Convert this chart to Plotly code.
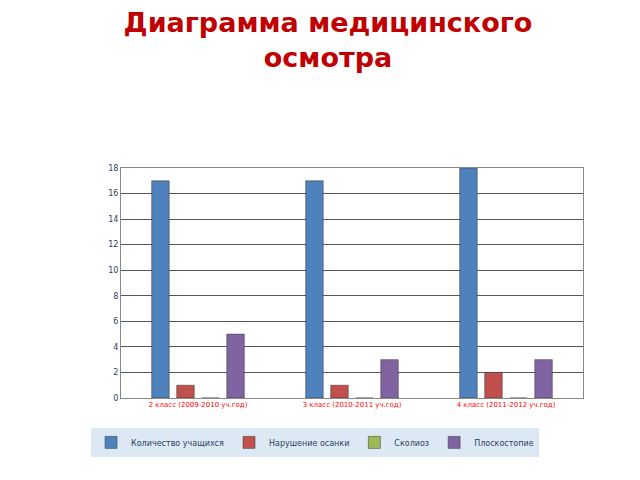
import plotly.graph_objects as go

categories = ['2 класс (2009-2010 уч.год)', '3 класс (2010-2011 уч.год)', '4 класс (2011-2012 уч.год)']
series_names = ['Количество учащихся', 'Нарушение осанки', 'Сколиоз', 'Плоскостопие']
uchaschihsya = [17, 17, 18]
narushenie = [1, 1, 2]
skolioz = [0, 0, 0]
ploskostopie = [5, 3, 3]
colors = ['#4f81bd', '#c0504d', '#9bbb59', '#8064a2']

fig = go.Figure()
for name, vals, c in zip(series_names, [uchaschihsya, narushenie, skolioz, ploskostopie], colors):
    fig.add_trace(go.Bar(x=categories, y=vals, name=name, marker_color=c,
                         marker_line_color='#333', marker_line_width=0.5))

fig.update_layout(
    width=640, height=480,
    paper_bgcolor='white', plot_bgcolor='white',
    title=dict(text='<b>Диаграмма медицинского<br>осмотра</b>', x=0.5, y=0.95, yanchor='top',
               font=dict(family='DejaVu Sans', size=27, color='#c00000')),
    barmode='group', bargap=0.35, bargroupgap=0.3,
    margin=dict(l=113, r=65, t=160, b=90),
    xaxis=dict(tickfont=dict(size=7, color='red', family='DejaVu Sans'), showline=True,
               linecolor='#888', mirror=True),
    yaxis=dict(range=[0, 18], dtick=2, tickfont=dict(size=8, family='DejaVu Sans'),
               showgrid=True, gridcolor='#555', showline=True, linecolor='#888', mirror=True),
    legend=dict(orientation='h', x=0.42, xanchor='center', y=-0.13, yanchor='top',
                bgcolor='#dce9f5', font=dict(size=8, family='DejaVu Sans'),
                itemwidth=30),
    showlegend=True,
)
fig.write_html('out.html')
